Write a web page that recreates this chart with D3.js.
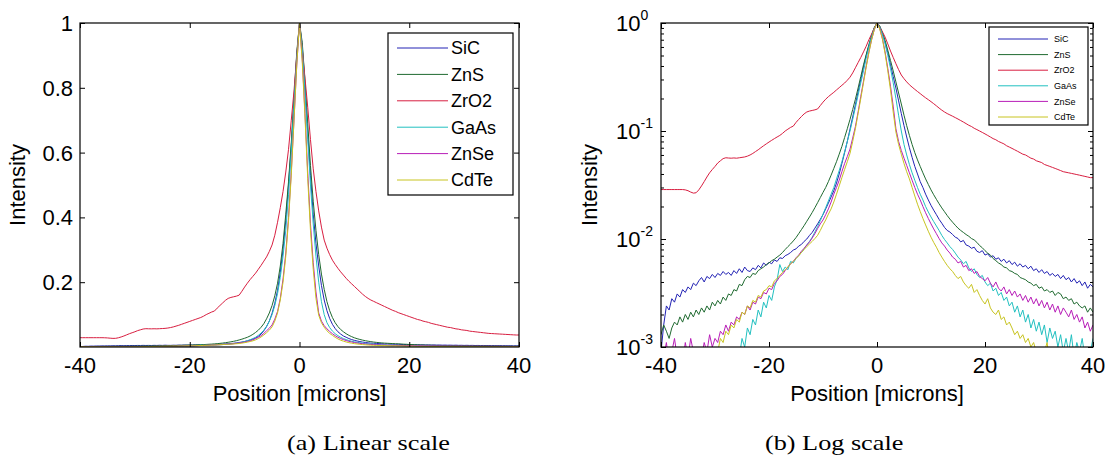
<!DOCTYPE html>
<html>
<head>
<meta charset="utf-8">
<script src="https://cdn.jsdelivr.net/npm/d3@7"></script>
<style>
  body { margin: 0; background: #fff; }
  text { font-family: "Liberation Sans", Arial, sans-serif; fill: #000; }
  .cap { font-family: "Liberation Serif", "Times New Roman", serif; }
</style>
</head>
<body>
<svg id="fig" width="1109" height="458"></svg>
<script>
// Material names and their line colours
const materials = ["SiC", "ZnS", "ZrO2", "GaAs", "ZnSe", "CdTe"];
const colors = ["#2222b4", "#1f6a30", "#d81e40", "#22c0c0", "#b81eb8", "#c8c420"];

// Sample positions in microns (-40 ... 40, step 0.5)
const positions = d3.range(-40, 40.001, 0.5);

// Normalised intensity profiles, one value per position
const sic = [
  .00090,.0016,.0024,.0022,.0028,.0026,.0031,.0029,.0034,.0032,
  .0036,.0034,.0039,.0037,.0041,.0044,.0040,.0045,.0043,.0047,
  .0044,.0048,.0046,.0050,.0047,.0049,.0046,.0051,.0048,.0053,
  .0049,.0055,.0051,.0050,.0054,.0052,.0057,.0054,.0060,.0057,
  .0061,.0059,.0064,.0062,.0067,.0066,.0070,.0072,.0075,.0079,
  .0081,.0086,.0089,.0095,.0100,.0108,.0115,.0126,.0138,.0152,
  .0168,.0190,.0215,.0245,.028,.033,.040,.050,.063,.080,
  .104,.135,.175,.23,.30,.39,.50,.62,.76,.90,
  1.0,.93,.80,.66,.53,.41,.32,.25,.19,.145,
  .112,.088,.070,.057,.047,.040,.034,.030,.026,.023,
  .0205,.0185,.0168,.0152,.0140,.0128,.0120,.0116,.0110,.0104,
  .0101,.0094,.0097,.0088,.0086,.0082,.0084,.0077,.0075,.0078,
  .0071,.0073,.0068,.0070,.0065,.0067,.0062,.0065,.0060,.0063,
  .0058,.0061,.0056,.0059,.0055,.0057,.0053,.0056,.0051,.0053,
  .0049,.0052,.0048,.0050,.0046,.0048,.0045,.0047,.0043,.0046,
  .0042,.0044,.0040,.0043,.0039,.0041,.0037,.0040,.0035,.0038,.0036
];
const zns = [
  .0013,.0016,.0014,.0012,.0015,.0017,.0016,.0019,.0017,.0020,
  .0018,.0021,.0019,.0022,.0020,.0023,.0021,.0024,.0022,.0026,
  .0024,.0027,.0025,.0029,.0027,.0031,.0030,.0034,.0033,.0038,
  .0037,.0042,.0045,.0044,.0048,.0047,.0051,.0053,.0055,.0058,
  .0060,.0063,.0065,.0068,.0071,.0075,.0080,.0085,.0090,.0096,
  .0103,.0112,.0122,.0133,.0146,.016,.0176,.0195,.0217,.0242,
  .027,.030,.034,.039,.045,.052,.061,.072,.087,.105,
  .128,.158,.197,.25,.32,.41,.51,.63,.77,.91,
  1.0,.94,.82,.69,.56,.45,.36,.285,.225,.178,
  .14,.112,.091,.075,.063,.054,.047,.041,.036,.032,
  .0285,.0257,.0233,.0212,.0194,.0179,.0165,.0153,.0143,.0134,
  .0126,.0120,.0115,.0110,.0106,.0101,.0098,.0093,.0087,.0083,
  .0078,.0074,.0071,.0066,.0063,.0060,.0058,.0055,.0054,.0051,
  .0050,.0048,.0047,.0044,.0043,.0042,.0040,.0039,.0037,.0038,
  .0035,.0036,.0033,.0034,.0032,.0033,.0030,.0032,.0031,.0028,
  .0029,.0027,.0028,.0025,.0026,.0024,.0023,.0024,.0021,.0023,.0021
];
const zro2 = [
  .0287,.0287,.0287,.0287,.0287,.0287,.0287,.0287,.0287,.0285,
  .0280,.0272,.0266,.0268,.0285,.0310,.0340,.0375,.0410,.0440,
  .0470,.0505,.0530,.0555,.0565,.0562,.0560,.0563,.0560,.0565,
  .0570,.0575,.0585,.0600,.0620,.0645,.0670,.0700,.0730,.0760,
  .0790,.0820,.0850,.0880,.0910,.0950,.1000,.1040,.1080,.1110,
  .120,.128,.136,.144,.150,.153,.155,.157,.160,.172,
  .185,.197,.208,.218,.228,.240,.252,.265,.278,.295,
  .315,.345,.385,.43,.48,.54,.61,.70,.79,.90,
  1.0,.92,.83,.74,.64,.55,.48,.42,.37,.33,
  .305,.285,.268,.255,.243,.232,.222,.212,.203,.195,
  .187,.179,.171,.163,.156,.150,.145,.141,.137,.133,
  .129,.125,.121,.117,.113,.110,.106,.103,.100,.097,
  .094,.091,.088,.085,.083,.080,.078,.076,.073,.071,
  .069,.067,.065,.063,.061,.060,.058,.056,.055,.053,
  .052,.051,.049,.048,.047,.046,.045,.044,.043,.042,
  .0415,.041,.0405,.040,.0395,.039,.0385,.038,.0375,.037,.037
];
const gaas = [
  .0006,.0005,.0007,.0004,.0006,.0005,.0007,.0005,.0006,.0004,
  .0006,.0005,.0007,.0005,.0006,.0004,.0007,.0005,.0006,.0005,
  .0007,.0005,.0008,.0006,.0009,.0007,.0008,.0006,.0010,.0008,
  .0012,.0010,.0015,.0013,.0018,.0016,.0022,.0019,.0026,.0023,
  .0030,.0027,.0036,.0042,.0058,.0050,.0055,.0052,.0062,.0060,
  .0066,.0070,.0075,.0081,.0088,.0095,.0104,.0116,.0130,.0148,
  .0170,.0195,.0225,.026,.030,.036,.043,.052,.064,.080,
  .100,.128,.165,.215,.28,.36,.47,.60,.75,.89,
  1.0,.92,.79,.64,.50,.38,.28,.20,.14,.10,
  .075,.060,.049,.041,.035,.030,.026,.023,.020,.0178,
  .0160,.0145,.0132,.0120,.0108,.0099,.0092,.0085,.0080,.0074,
  .0068,.0064,.0059,.0062,.0054,.0050,.0053,.0047,.0044,.0046,
  .0040,.0037,.0039,.0033,.0035,.0030,.0032,.0027,.0029,.0024,
  .0026,.0021,.0024,.0019,.0022,.0017,.0020,.0015,.0018,.0014,
  .0017,.0013,.0016,.0011,.0015,.0012,.0014,.0010,.0013,.0009,
  .0012,.0009,.0013,.0008,.0011,.0009,.0012,.0008,.0010,.0009,.0012
];
const znse = [
  .0010,.0008,.0011,.0007,.0009,.0012,.0008,.0010,.0007,.0011,
  .0008,.0012,.0009,.0007,.0010,.0008,.0011,.0009,.0013,.0010,
  .0012,.0011,.0014,.0013,.0016,.0014,.0017,.0016,.0019,.0018,
  .0021,.0020,.0024,.0022,.0026,.0025,.0029,.0028,.0032,.0031,
  .0035,.0034,.0039,.0041,.0045,.0047,.0051,.0055,.0059,.0062,
  .0067,.0071,.0077,.0082,.0088,.0094,.0102,.0112,.0125,.0138,
  .0150,.0168,.019,.022,.026,.030,.035,.042,.050,.058,
  .068,.086,.11,.15,.21,.29,.40,.54,.70,.87,
  1.0,.89,.72,.54,.38,.26,.17,.105,.080,.066,
  .056,.048,.041,.035,.030,.026,.023,.020,.0175,.0155,
  .0138,.0124,.0112,.0101,.0092,.0086,.0079,.0074,.0068,.0065,
  .0060,.0062,.0055,.0057,.0051,.0053,.0048,.0050,.0045,.0043,
  .0041,.0044,.0039,.0036,.0040,.0035,.0033,.0036,.0031,.0034,
  .0030,.0033,.0029,.0031,.0027,.0030,.0026,.0029,.0025,.0028,
  .0024,.0027,.0023,.0026,.0022,.0025,.0021,.0024,.0020,.0023,
  .0021,.0019,.0022,.0018,.0020,.0017,.0019,.0015,.0017,.0014,.0016
];
const cdte = [
  .0006,.0005,.0007,.0004,.0006,.0005,.0007,.0004,.0006,.0005,
  .0006,.0004,.0007,.0005,.0006,.0005,.0007,.0006,.0008,.0007,
  .0010,.0009,.0012,.0011,.0014,.0013,.0016,.0015,.0018,.0017,
  .0021,.0020,.0024,.0023,.0027,.0026,.0030,.0029,.0033,.0034,
  .0037,.0036,.0041,.0043,.0046,.0049,.0052,.0055,.0059,.0062,
  .0066,.0070,.0075,.0080,.0085,.0090,.0095,.0101,.0108,.0120,
  .0135,.0150,.017,.019,.022,.026,.031,.037,.044,.052,
  .062,.080,.105,.145,.20,.28,.39,.53,.70,.87,
  1.0,.88,.71,.52,.36,.24,.15,.098,.075,.061,
  .050,.042,.036,.030,.025,.021,.018,.0155,.0135,.0118,
  .0104,.0093,.0084,.0075,.0068,.0062,.0057,.0053,.0050,.0046,
  .0043,.0045,.0040,.0037,.0035,.0038,.0032,.0034,.0030,.0027,
  .0025,.0028,.0023,.0021,.0020,.0022,.0018,.0019,.0016,.0017,
  .0015,.0013,.0014,.0012,.0013,.0011,.0012,.0010,.0011,.0009,
  .0010,.0008,.0009,.0011,.0007,.0009,.0008,.0010,.0007,.0008,
  .0006,.0009,.0007,.0008,.0006,.0010,.0007,.0005,.0008,.0006,.0007
];
const profiles = [sic, zns, zro2, gaas, znse, cdte];

// Tick values and labels
const xTicks = [-40, -20, 0, 20, 40];
const linTicks = [0.2, 0.4, 0.6, 0.8, 1];
const linLabels = ["0.2", "0.4", "0.6", "0.8", "1"];
const logTicks = [1e-3, 1e-2, 1e-1, 1];
const logExponents = ["-3", "-2", "-1", "0"];
const captions = ["(a) Linear scale", "(b) Log scale"];

const svg = d3.select("#fig");

function drawPanel(p) {
  const g = svg.append("g");
  const x = d3.scaleLinear().domain([-40, 40]).range([p.left, p.right]);
  const y = p.log
    ? d3.scaleLog().domain([1e-3, 1]).range([p.bottom, p.top])
    : d3.scaleLinear().domain([0, 1]).range([p.bottom, p.top]);

  const clipId = "clip-" + p.id;
  svg.append("clipPath").attr("id", clipId)
    .append("rect").attr("x", p.left).attr("y", p.top - 1)
    .attr("width", p.right - p.left).attr("height", p.bottom - p.top + 1);

  // Curves
  const line = d3.line().x(d => x(d[0])).y(d => y(d[1]));
  const curves = g.append("g").attr("clip-path", `url(#${clipId})`);
  profiles.forEach((vals, i) => {
    curves.append("path")
      .datum(positions.map((pos, k) => [pos, vals[k]]))
      .attr("d", line)
      .attr("fill", "none")
      .attr("stroke", colors[i])
      .attr("stroke-width", 1);
  });

  // Inward ticks on all four sides
  const tk = 5;
  const yMajor = p.log ? logTicks : linTicks;
  const axes = [
    [d3.axisBottom(x).tickValues(xTicks), `translate(0,${p.bottom})`],
    [d3.axisTop(x).tickValues(xTicks), `translate(0,${p.top})`],
    [d3.axisLeft(y).tickValues(yMajor), `translate(${p.left},0)`],
    [d3.axisRight(y).tickValues(yMajor), `translate(${p.right},0)`]
  ];
  axes.forEach(([ax, tr]) => {
    const a = g.append("g").attr("transform", tr)
      .call(ax.tickSizeInner(-tk).tickSizeOuter(0).tickFormat(""));
    a.select(".domain").remove();
    a.selectAll("line").attr("stroke", "#000");
  });
  if (p.log) {
    const minor = y.ticks().filter(v => !logTicks.includes(v));
    [[d3.axisLeft(y), p.left], [d3.axisRight(y), p.right]].forEach(([ax, px]) => {
      const a = g.append("g").attr("transform", `translate(${px},0)`)
        .call(ax.tickValues(minor).tickSizeInner(-3).tickSizeOuter(0).tickFormat(""));
      a.select(".domain").remove();
      a.selectAll("line").attr("stroke", "#000");
    });
  }

  // Frame
  g.append("rect").attr("x", p.left).attr("y", p.top)
    .attr("width", p.right - p.left).attr("height", p.bottom - p.top)
    .attr("fill", "none").attr("stroke", "#000").attr("stroke-width", 1.2);

  // X tick labels
  g.selectAll(".xl").data(xTicks).join("text")
    .attr("x", d => x(d)).attr("y", p.bottom + 26)
    .attr("text-anchor", "middle").attr("font-size", 22)
    .text(d => d);

  // Y tick labels
  if (p.log) {
    logTicks.forEach((v, i) => {
      const t = g.append("text").attr("x", p.left - 45).attr("y", y(v) + 8)
        .attr("font-size", 22);
      t.append("tspan").text("10");
      t.append("tspan").attr("dy", -11).attr("font-size", 14).text(logExponents[i]);
    });
  } else {
    linTicks.forEach((v, i) => {
      g.append("text").attr("x", p.left - 7).attr("y", y(v) + 8)
        .attr("text-anchor", "end").attr("font-size", 22).text(linLabels[i]);
    });
  }

  // Axis titles
  g.append("text").attr("x", (p.left + p.right) / 2).attr("y", p.bottom + 54)
    .attr("text-anchor", "middle").attr("font-size", 22).text("Position [microns]");
  g.append("text")
    .attr("transform", `translate(${p.ylabX},${(p.top + p.bottom) / 2}) rotate(-90)`)
    .attr("text-anchor", "middle").attr("font-size", 22).text("Intensity");

  // Legend
  const L = p.legend;
  g.append("rect").attr("x", L.x0).attr("y", L.y0)
    .attr("width", L.x1 - L.x0).attr("height", L.y1 - L.y0)
    .attr("fill", "#fff").attr("stroke", "#000").attr("stroke-width", 1.2);
  materials.forEach((m, i) => {
    const yy = L.first + i * L.step;
    g.append("line").attr("x1", L.lx0).attr("x2", L.lx1)
      .attr("y1", yy).attr("y2", yy)
      .attr("stroke", colors[i]).attr("stroke-width", 1);
    g.append("text").attr("x", L.tx).attr("y", yy + L.fs * 0.36)
      .attr("font-size", L.fs).text(m);
  });

  // Caption (set in a wide serif face)
  svg.append("text").attr("class", "cap")
    .attr("transform", `translate(${p.capX},450) scale(1.22,1)`)
    .attr("font-size", 21.5)
    .text(p.caption);
}

drawPanel({
  id: "lin", log: false, left: 80, right: 519, top: 23, bottom: 347, ylabX: 25,
  legend: { x0: 388, x1: 513, y0: 33, y1: 195, first: 48, step: 26.4,
            lx0: 397, lx1: 448, tx: 451, fs: 18 },
  capX: 287, caption: captions[0]
});
drawPanel({
  id: "log", log: true, left: 661, right: 1093, top: 23, bottom: 347, ylabX: 597,
  legend: { x0: 989, x1: 1088, y0: 27, y1: 125, first: 39, step: 15.6,
            lx0: 998, lx1: 1048, tx: 1054, fs: 9 },
  capX: 765, caption: captions[1]
});
</script>
</body>
</html>
